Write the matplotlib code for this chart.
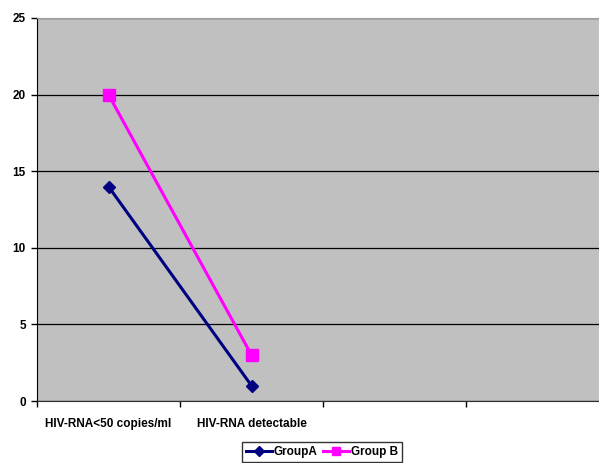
import matplotlib
matplotlib.use("Agg")
import matplotlib.pyplot as plt
from matplotlib.ticker import FixedLocator

categories = ["HIV-RNA<50 copies/ml", "HIV-RNA detectable", "", ""]
group_a = [14, 1]
group_b = [20, 3]
yticks = [0, 5, 10, 15, 20, 25]

plt.rcParams['font.family'] = ['Liberation Sans', 'DejaVu Sans']
plt.rcParams['font.weight'] = 'bold'

W, H = 599, 463
fig = plt.figure(figsize=(W/100, H/100), dpi=100)
left, right, top, bottom = 37, 609, 18, 401
ax = fig.add_axes([left/W, 1-bottom/H, (right-left)/W, (bottom-top)/H])
ax.set_facecolor('#C0C0C0')

xs_a = list(range(len(group_a)))
xs_b = list(range(len(group_b)))
ax.plot(xs_a, group_a, color='#000080', lw=2.2, marker='D', markersize=6.5, label='GroupA', zorder=3)
ax.plot(xs_b, group_b, color='#FF00FF', lw=2.2, marker='s', markersize=8, label='Group B', zorder=3)

ax.set_xlim(-0.5, len(categories)-0.5)
ax.set_ylim(0, 25)
ax.set_yticks(yticks)
ax.yaxis.grid(True, color='#000000', lw=0.9)
ax.set_axisbelow(True)

ax.set_xticks(range(len(categories)))
ax.set_xticklabels(categories, fontsize=8.5, fontweight='bold')
ax.tick_params(axis='x', which='major', length=0, pad=12)
ax.xaxis.set_minor_locator(FixedLocator([i-0.5 for i in range(len(categories)+1)]))
ax.tick_params(axis='x', which='minor', length=4, width=1, color='black', direction='out')
ax.tick_params(axis='y', length=4, width=1, direction='out', labelsize=8.5, pad=4)
for lab in ax.get_yticklabels():
    lab.set_fontweight('bold')

ax.spines['left'].set_color('black')
ax.spines['bottom'].set_color('#303030')
ax.spines['top'].set_color('#A0A0A0')
ax.spines['right'].set_visible(False)

leg = fig.legend(loc='center', bbox_to_anchor=(322/W, 1-452/H), ncol=2, frameon=True,
                 fontsize=8.5, handlelength=2.2, columnspacing=0.5, handletextpad=0.15,
                 borderpad=0.35, borderaxespad=0.2, fancybox=False, edgecolor='black',
                 markerscale=0.75)
leg.get_frame().set_linewidth(1.0)
for t in leg.get_texts():
    t.set_fontweight('bold')

fig.savefig('out.png', dpi=100)
